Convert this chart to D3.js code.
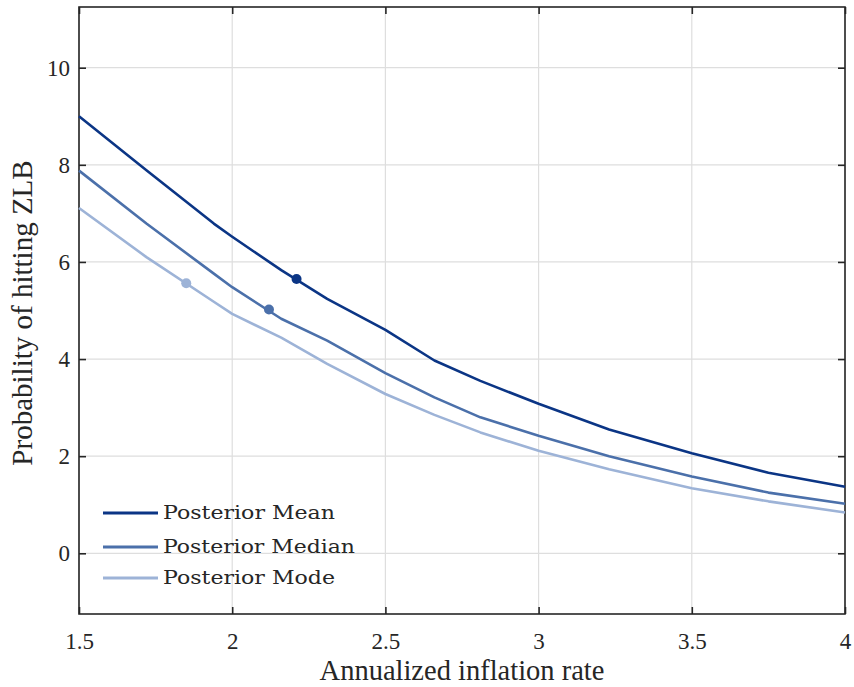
<!DOCTYPE html>
<html>
<head>
<meta charset="utf-8">
<script src="https://cdn.jsdelivr.net/npm/d3@7"></script>
<style>
  body { margin: 0; background: #fff; }
  svg { display: block; }
  text { font-family: "Liberation Serif", "Times New Roman", serif; fill: #262626; }
</style>
</head>
<body>
<script>
// data
var inflation = [1.5, 1.72, 1.94, 2.0, 2.16, 2.31, 2.5, 2.66, 2.81, 3.0, 3.23, 3.5, 3.75, 4.0]
var meanVals   = [9.0, 7.89, 6.79, 6.52, 5.83, 5.24, 4.6, 3.97, 3.55, 3.08, 2.55, 2.06, 1.66, 1.37]
var medianVals = [7.88, 6.79, 5.76, 5.48, 4.83, 4.38, 3.71, 3.21, 2.8, 2.42, 2.0, 1.58, 1.25, 1.02]
var modeVals   = [7.11, 6.1, 5.18, 4.93, 4.44, 3.9, 3.28, 2.85, 2.49, 2.11, 1.73, 1.34, 1.07, 0.84]
var seriesNames = ['Posterior Mean', 'Posterior Median', 'Posterior Mode']
var markerX = [2.21, 2.12, 1.85]
var markerY = [5.65, 5.02, 5.56]
var xTicks = [1.5, 2, 2.5, 3, 3.5, 4]
var yTicks = [0, 2, 4, 6, 8, 10]

var colors = ['#0b3585', '#4b70aa', '#9db3d7']

var margin = {left: 79, top: 7, right: 9, bottom: 73}
var W = 854, H = 687
var width = W - margin.left - margin.right
var height = H - margin.top - margin.bottom

var svg = d3.select('body').append('svg').attr('width', W).attr('height', H)
var g = svg.append('g').attr('transform', 'translate(' + margin.left + ',' + margin.top + ')')

var x = d3.scaleLinear().domain([1.5, 4]).range([0, width])
var y = d3.scaleLinear().domain([-1.25, 11.25]).range([height, 0])

// grid
g.selectAll('.vgrid').data(xTicks).enter().append('line')
  .attr('x1', d => x(d)).attr('x2', d => x(d)).attr('y1', 0).attr('y2', height)
  .attr('stroke', '#dedede').attr('stroke-width', 1.2)
g.selectAll('.hgrid').data(yTicks).enter().append('line')
  .attr('y1', d => y(d)).attr('y2', d => y(d)).attr('x1', 0).attr('x2', width)
  .attr('stroke', '#dedede').attr('stroke-width', 1.2)

// axes, inward ticks on all four sides
var tk = 7
var xb = g.append('g').attr('transform', 'translate(0,' + height + ')')
  .call(d3.axisBottom(x).tickValues(xTicks).tickSize(-tk).tickPadding(19).tickFormat(d3.format('')))
var xt = g.append('g').call(d3.axisTop(x).tickValues(xTicks).tickSize(-tk).tickFormat(''))
var yl = g.append('g').call(d3.axisLeft(y).tickValues(yTicks).tickSize(-tk).tickPadding(9))
var yr = g.append('g').attr('transform', 'translate(' + width + ',0)')
  .call(d3.axisRight(y).tickValues(yTicks).tickSize(-tk).tickFormat(''))

;[xb, xt, yl, yr].forEach(function(a){
  a.select('.domain').remove()
  a.selectAll('line').attr('stroke', '#262626').attr('stroke-width', 1.6)
  a.selectAll('text').style('font-size', '23px').attr('fill', '#262626')
})

g.append('rect').attr('width', width).attr('height', height)
  .attr('fill', 'none').attr('stroke', '#262626').attr('stroke-width', 1.6)

// curves
var allSeries = [meanVals, medianVals, modeVals]
var line = d3.line().x((d, i) => x(inflation[i])).y(d => y(d))

allSeries.forEach(function(vals, k){
  g.append('path').datum(vals)
    .attr('d', line)
    .attr('fill', 'none')
    .attr('stroke', colors[k])
    .attr('stroke-width', 2.6)
    .attr('stroke-linejoin', 'round')
})

g.selectAll('.marker').data(markerX).enter().append('circle')
  .attr('cx', d => x(d))
  .attr('cy', (d, i) => y(markerY[i]))
  .attr('r', 5)
  .attr('fill', (d, i) => colors[i])

// legend
var legY = [506, 540, 571]
var legW = [172, 192, 172]
var leg = g.selectAll('.leg').data(seriesNames).enter().append('g')
  .attr('transform', (d, i) => 'translate(24,' + legY[i] + ')')
leg.append('line').attr('x1', 0).attr('x2', 55).attr('y1', 0).attr('y2', 0)
  .attr('stroke', (d, i) => colors[i]).attr('stroke-width', 3.2)
leg.append('text').attr('x', 60).attr('y', 6)
  .style('font-size', '18px').style('font-family', '"DejaVu Serif", serif')
  .attr('textLength', (d, i) => legW[i]).attr('lengthAdjust', 'spacingAndGlyphs')
  .attr('fill', '#1a1a1a')
  .text(d => d)

// axis titles
svg.append('text')
  .attr('x', margin.left + width / 2).attr('y', 680)
  .attr('text-anchor', 'middle').style('font-size', '28.5px')
  .text('Annualized inflation rate')

svg.append('text')
  .attr('transform', 'translate(32,313) rotate(-90)')
  .attr('text-anchor', 'middle').style('font-size', '29px')
  .text('Probability of hitting ZLB')
</script>
</body>
</html>
